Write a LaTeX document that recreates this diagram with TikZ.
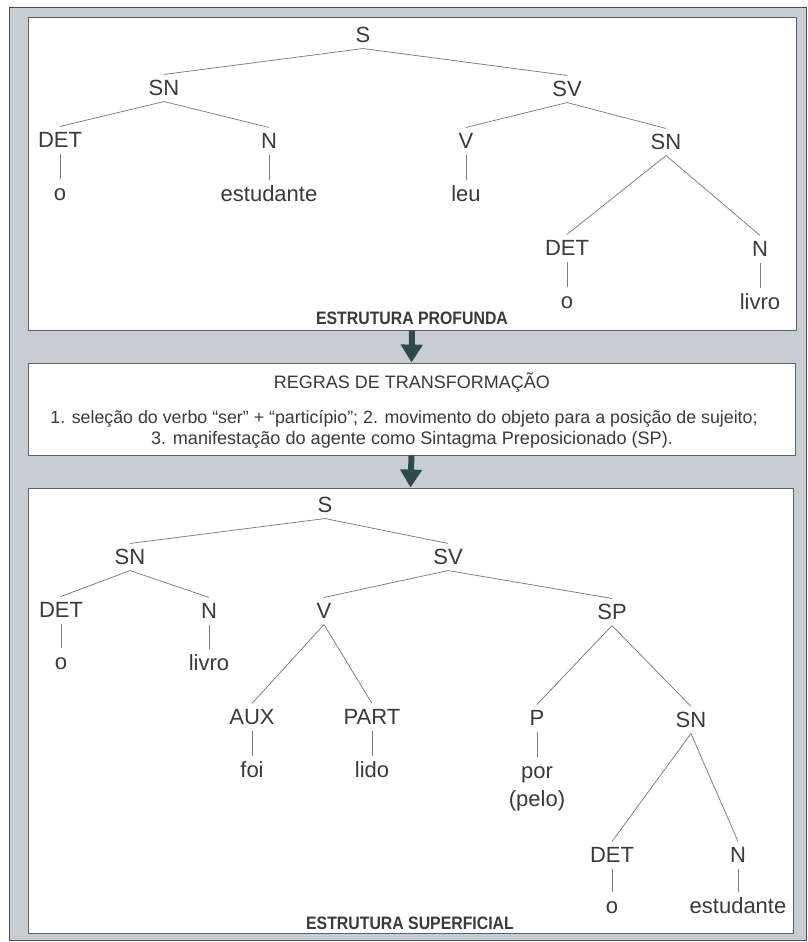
\documentclass[tikz,border=0pt]{standalone}
\usepackage{fontspec}
\setmainfont{Liberation Sans}
\newfontfamily\titlefont[FakeStretch=0.88]{Liberation Sans}
\usetikzlibrary{arrows.meta, positioning}
\definecolor{panelgray}{HTML}{C6CDD4}
\definecolor{arrowteal}{HTML}{2F4B49}
\definecolor{inkgray}{HTML}{3A3A3A}
\definecolor{linegray}{HTML}{7C7C7C}

\begin{document}
\begin{tikzpicture} [x=1pt, y=-1pt, node distance = 52pt, on grid,
  word/.style = {text=inkgray, font=\fontsize{22}{25}\selectfont,
    text height=15.7pt, text depth=0pt, inner xsep=2pt, inner ysep=5.5pt},
  branch/.style = {draw=linegray, line width=0.75pt},
  panel/.style = {draw=gray!75!black, fill=white, line width=0.8pt, inner sep=0pt},
  caption/.style = {text=inkgray, font=\titlefont\bfseries\fontsize{18}{20}\selectfont, anchor=base},
  rule/.style = {text=inkgray, anchor=base},
  bigarrow/.style = {arrowteal, line width=6pt, -{Triangle[width=21pt, length=18pt]}}]

\useasboundingbox (0,0) rectangle (808,942);
\filldraw [panelgray, draw=gray!60!black, line width=0.6pt] (9,7) rectangle (806,940);

% boxes
\node (deep) [panel, minimum width=768pt, minimum height=313pt] at (412,173.5) {};
\node (rules) [panel, minimum width=767pt, minimum height=92pt] at (411.5,409) {};
\node (surf) [panel, minimum width=765pt, minimum height=445pt] at (410.5,710.5) {};

\draw [bigarrow] (deep.south) -- (rules.north);
\draw [bigarrow] (rules.south) -- (surf.north);

% estrutura profunda
\node (s1) [word] at (363,35) {S};
\node (sn1) [word] at (164,88) {SN};
\node (sv1) [word] at (567,89) {SV};
\node (det1) [word] at (60,140) {DET};
\node (n1) [word] at (269,141) {N};
\node (v1) [word] at (466,141) {V};
\node (sn2) [word] at (666,142) {SN};
\node (det2) [word] at (567,248) {DET};
\node (n2) [word] at (760,249) {N};
\node (o1) [word, below = 53pt of det1] {o};
\node (estud1) [word, below = 53pt of n1] {estudante};
\node (leu) [word, below = 53pt of v1] {leu};
\node (o2) [word, below = 53pt of det2] {o};
\node (livro1) [word, below = 53pt of n2] {livro};

\path [branch]
  (s1.south) edge (sn1.north)
  (s1.south) edge (sv1.north);
\path [branch]
  (sn1.south) edge (det1.north)
  (sn1.south) edge (n1.north);
\path [branch]
  (sv1.south) edge (v1.north)
  (sv1.south) edge (sn2.north);
\path [branch]
  (sn2.south) edge (det2.north)
  (sn2.south) edge (n2.north);
\path [branch]
  (det1) edge (o1)
  (n1) edge (estud1)
  (v1) edge (leu)
  (det2) edge (o2)
  (n2) edge (livro1);

\node (cap1) [caption] at (412,324.5) {ESTRUTURA PROFUNDA};

% regras
\node (title) [rule, font=\fontsize{18}{20}\selectfont] at (412,388.5) {REGRAS DE TRANSFORMAÇÃO};
\node (line1) [rule, font=\fontsize{17.8}{20}\selectfont] at (404,423)
  {1. seleção do verbo “ser” + “particípio”; 2. movimento do objeto para a posição de sujeito;};
\node (line2) [rule, font=\fontsize{18.1}{20}\selectfont] at (412,444)
  {3. manifestação do agente como Sintagma Preposicionado (SP).};

% estrutura superficial
\node (s2) [word] at (325,505) {S};
\node (sn3) [word] at (130,557) {SN};
\node (sv2) [word] at (448,557) {SV};
\node (det3) [word] at (61,610) {DET};
\node (n3) [word] at (209,611) {N};
\node (v2) [word] at (324,611) {V};
\node (sp) [word] at (612,612) {SP};
\node (aux) [word] at (252,717) {AUX};
\node (part) [word] at (372,717) {PART};
\node (p) [word] at (537,718) {P};
\node (sn4) [word] at (691,720) {SN};
\node (det4) [word] at (612,855) {DET};
\node (n4) [word] at (738,855) {N};
\node (o3) [word, below = of det3] {o};
\node (livro2) [word, below = of n3] {livro};
\node (foi) [word, below = 53pt of aux] {foi};
\node (lido) [word, below = 53pt of part] {lido};
\node (por) [word, below = 53pt of p] {por};
\node (pelo) [word, below = 28pt of por] {(pelo)};
\node (o4) [word, below = 51pt of det4] {o};
\node (estud2) [word, below = 51pt of n4] {estudante};

\path [branch]
  (s2.south) edge (sn3.north)
  (s2.south) edge (sv2.north);
\path [branch]
  (sn3.south) edge (det3.north)
  (sn3.south) edge (n3.north);
\path [branch]
  (sv2.south) edge (v2.north)
  (sv2.south) edge (sp.north);
\path [branch]
  (v2.south) edge (aux.north)
  (v2.south) edge (part.north);
\path [branch]
  (sp.south) edge (p.north)
  (sp.south) edge (sn4.north);
\path [branch]
  (sn4.south) edge (det4.north)
  (sn4.south) edge (n4.north);
\path [branch]
  (det3) edge (o3)
  (n3) edge (livro2)
  (aux) edge (foi)
  (part) edge (lido)
  (p) edge (por)
  (det4) edge (o4)
  (n4) edge (estud2);

\node (cap2) [caption] at (410,929) {ESTRUTURA SUPERFICIAL};
\end{tikzpicture}
\end{document}
